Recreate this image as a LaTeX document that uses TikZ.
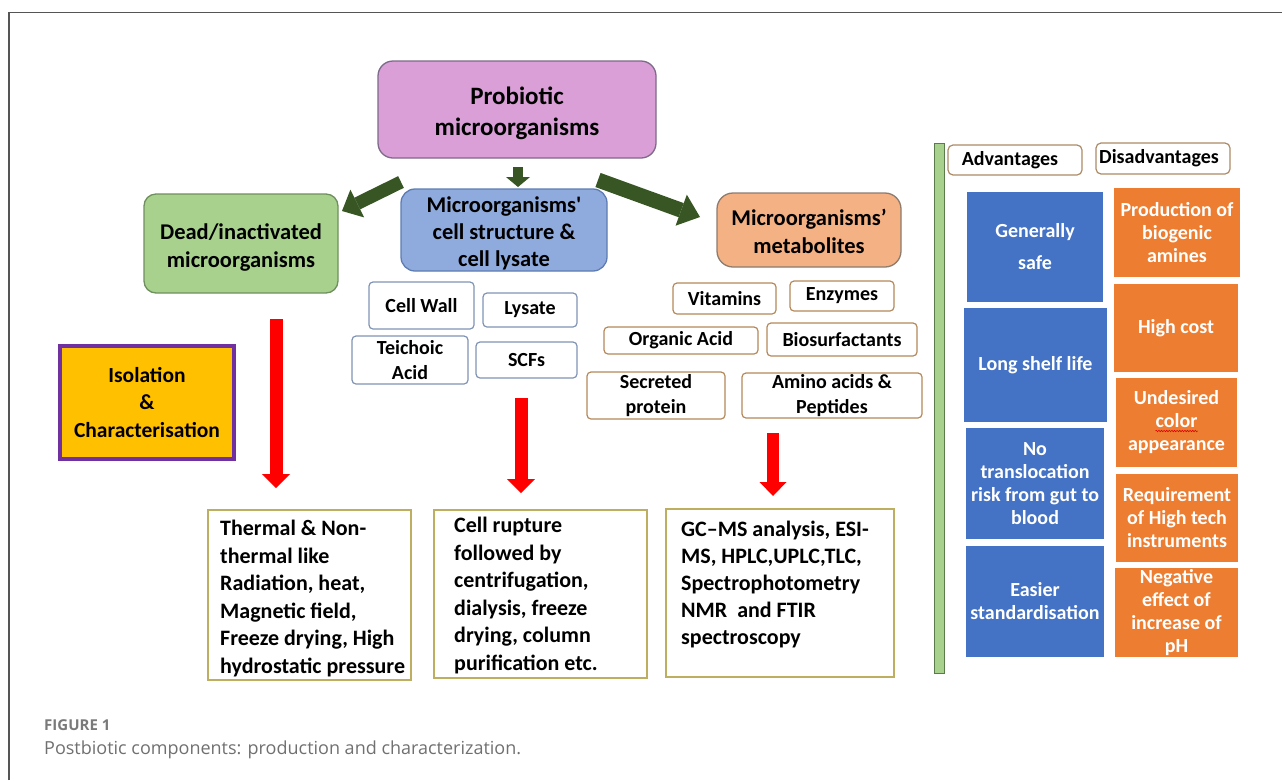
\documentclass[tikz,border=0pt]{standalone}
\usepackage{fontspec}
\setmainfont{Carlito}
\newfontfamily\capfont{Open Sans}
\usetikzlibrary{arrows.meta,decorations.pathmorphing}
\definecolor{pinkf}{HTML}{D99FD6}
\definecolor{pinkd}{HTML}{7E6A8A}
\definecolor{greenf}{HTML}{A9D18E}
\definecolor{greend}{HTML}{6F8F5E}
\definecolor{bluef}{HTML}{8FAADC}
\definecolor{blued}{HTML}{5E7CB4}
\definecolor{peachf}{HTML}{F4B183}
\definecolor{peachd}{HTML}{8D7B6E}
\definecolor{darkg}{HTML}{375623}
\definecolor{redc}{HTML}{FF0000}
\definecolor{isoy}{HTML}{FFC000}
\definecolor{isop}{HTML}{7030A0}
\definecolor{cellsd}{HTML}{7F93B5}
\definecolor{metsd}{HTML}{B5885A}
\definecolor{hdrd}{HTML}{AC8A65}
\definecolor{botd}{HTML}{BDAE60}
\definecolor{advblue}{HTML}{4472C4}
\definecolor{disor}{HTML}{ED7D31}
\definecolor{bard}{HTML}{5B7B4B}
\definecolor{framec}{HTML}{555555}
\definecolor{capg1}{HTML}{7A7A7A}
\definecolor{capg2}{HTML}{707070}
\tikzset{
  mainbox/.style={align=center, inner sep=0pt, line width=1.3pt, rounded corners=14pt,
    font=\bfseries\fontsize{22.5}{27.5}\selectfont},
  smallbox/.style={align=center, inner sep=0pt, line width=1.2pt, rounded corners=4pt, fill=white,
    font=\bfseries\fontsize{20}{25.5}\selectfont},
  cellsmall/.style={smallbox, draw=cellsd},
  metsmall/.style={smallbox, draw=metsd},
  hdrbox/.style={smallbox, draw=hdrd, rounded corners=5pt, minimum width=134pt},
  advbox/.style={align=center, inner sep=0pt, fill=advblue, text=white,
    font=\bfseries\fontsize{20}{23}\selectfont},
  disbox/.style={align=center, inner sep=0pt, fill=disor, text=white,
    font=\bfseries\fontsize{20}{23}\selectfont},
  botbox/.style={draw=botd, line width=1.3pt, inner sep=0pt},
  bottext/.style={align=left, inner sep=0pt, anchor=north west,
    font=\bfseries\fontsize{22}{27.5}\selectfont},
  garrow/.style={draw=darkg, line width=13pt, -{Triangle[length=17pt,width=31pt,line width=0pt]}},
  redarrow/.style={draw=redc, line width=13pt, -{Triangle[length=14pt,width=28pt,line width=0pt]}},
}
\begin{document}
\begin{tikzpicture}[x=1pt,y=-1pt]
\useasboundingbox (0,0) rectangle (1282,780);
% frame
\draw[framec, line width=1.4pt] (9,780) -- (9,12.5) -- (1282,12.5);

% main boxes
\node[mainbox, fill=pinkf, draw=pinkd, minimum width=278pt, minimum height=97pt,
  rounded corners=15pt, font=\bfseries\fontsize{25}{31}\selectfont] (prob) at (517,109.5) {\rule{0pt}{26pt}Probiotic\\microorganisms};
\node[mainbox, fill=greenf, draw=greend, minimum width=194pt, minimum height=99pt,
  rounded corners=12pt, font=\bfseries\fontsize{22.5}{28}\selectfont] (dead) at (241,243.5) {\rule{0pt}{24pt}Dead/inactivated\\microorganisms};
\node[mainbox, fill=bluef, draw=blued, minimum width=206pt, minimum height=82pt,
  font=\bfseries\fontsize{22.5}{27}\selectfont] (cell) at (504,230) {\rule{0pt}{22pt}Microorganisms\textquotesingle\\cell structure \&\\cell lysate};
\node[mainbox, fill=peachf, draw=peachd, minimum width=184pt, minimum height=74pt,
  rounded corners=16pt, font=\bfseries\fontsize{22.5}{28}\selectfont] (meta) at (809,230) {\rule{0pt}{19.5pt}Microorganisms’\\metabolites};

% green arrows
\coordinate (gA1) at (401,182); \coordinate (gA2) at (342,211);
\coordinate (gB1) at (518,167); \coordinate (gB2) at (518,187);
\coordinate (gC1) at (598,180); \coordinate (gC2) at (700,217);
\draw[garrow] (gA1) -- (gA2);
\draw[garrow, line width=10pt, -{Triangle[length=10pt,width=24pt,line width=0pt]}] (gB1) -- (gB2);
\draw[garrow, line width=15pt, -{Triangle[length=20pt,width=33pt,line width=0pt]}] (gC1) -- (gC2);

% cell small boxes
\node[cellsmall, minimum width=105pt, minimum height=47pt] (cwall) at (421.5,305.5) {Cell Wall};
\node[cellsmall, minimum width=94pt, minimum height=34pt] (lysate) at (530,310) {Lysate};
\node[cellsmall, minimum width=116pt, minimum height=48pt] (teich) at (410,360) {Teichoic\\Acid};
\node[cellsmall, minimum width=101pt, minimum height=36pt] (scfs) at (526.5,360) {SCFs};

% metabolite small boxes
\node[metsmall, minimum width=103pt, minimum height=31pt] (vit) at (724.5,298.5) {Vitamins};
\node[metsmall, minimum width=104pt, minimum height=30pt] (enz) at (842,296) {Enzymes};
\node[metsmall, minimum width=154pt, minimum height=27pt] (orgacid) at (681,340.5) {Organic Acid};
\node[metsmall, minimum width=150pt, minimum height=33pt] (biosurf) at (842,339.5) {Biosurfactants};
\node[metsmall, minimum width=138pt, minimum height=47pt] (secprot) at (656,395.5) {Secreted\\protein};
\node[metsmall, minimum width=180pt, minimum height=45pt] (amino) at (832,395.5) {Amino acids \&\\Peptides};

% isolation box
\node[fill=isoy, draw=isop, line width=4pt, minimum width=174pt, minimum height=113pt,
  inner sep=0pt, align=center, font=\bfseries\fontsize{21.5}{27.5}\selectfont] (iso) at (147,402.5) {Isolation\\\&\\Characterisation};

% red arrows
\coordinate (rA1) at (276,319); \coordinate (rA2) at (276,488);
\coordinate (rB1) at (521,398); \coordinate (rB2) at (521,493);
\coordinate (rC1) at (773,433); \coordinate (rC2) at (773,496);
\draw[redarrow] (rA1) -- (rA2);
\draw[redarrow] (rB1) -- (rB2);
\draw[redarrow, line width=12pt, -{Triangle[length=14pt,width=27pt,line width=0pt]}] (rC1) -- (rC2);

% bottom boxes
\node[botbox, minimum width=203pt, minimum height=170pt] (thermal) at (309.5,595) {};
\node[botbox, minimum width=213pt, minimum height=168pt] (rupture) at (540.5,594) {};
\node[botbox, minimum width=228pt, minimum height=168pt] (gcms) at (780,593) {};
\node[bottext] (thermaltxt) at (220,520) {Thermal \& Non-\\thermal like\\Radiation, heat,\\Magnetic field,\\Freeze drying, High\\hydrostatic pressure};
\node[bottext] (rupturetxt) at (454,517) {Cell rupture\\followed by\\centrifugation,\\dialysis, freeze\\drying, column\\purification etc.};
\node[bottext, font=\bfseries\fontsize{22}{27}\selectfont] (gcmstxt) at (681,521) {GC–MS analysis, ESI-\\MS, HPLC,UPLC,TLC,\\Spectrophotometry\\NMR\ \ and FTIR\\spectroscopy};

% right panel
\node[draw=bard, fill=greenf, line width=1pt, minimum width=10pt, minimum height=530pt, inner sep=0pt] (bar) at (939,408) {};
\node[hdrbox, minimum height=30pt] (advh) at (1015,160) {\raisebox{-1.5pt}{Advantages}\hspace{10pt}};
\node[hdrbox, minimum height=31pt] (dish) at (1163,158.5) {Disadvantages\hspace{8pt}};

\node[advbox, minimum width=136pt, minimum height=110pt] (adv1) at (1035,247) {Generally\\[9pt]safe};
\node[advbox, minimum width=143pt, minimum height=114pt] (adv2) at (1035.5,365) {Long shelf life};
\node[advbox, minimum width=138pt, minimum height=111pt] (adv3) at (1035,483.5) {No\\translocation\\risk from gut to\\blood};
\node[advbox, minimum width=138pt, minimum height=111pt] (adv4) at (1035,601.5) {Easier\\standardisation};

\node[disbox, minimum width=126.5pt, minimum height=89pt] (dis1) at (1177,232.5) {Production of\\biogenic\\amines};
\node[disbox, minimum width=124pt, minimum height=88pt] (dis2) at (1176,328) {High cost};
\node[disbox, minimum width=121pt, minimum height=89pt] (dis3) at (1176.5,422.5) {Undesired\\color\\appearance};
\node[disbox, minimum width=122pt, minimum height=88pt] (dis4) at (1177,518) {Requirement\\of High tech\\instruments};
\node[disbox, minimum width=123pt, minimum height=89pt] (dis5) at (1176.5,612.5) {Negative\\effect of\\increase of\\pH};
\draw[red!85!black, line width=0.6pt, decorate, decoration={snake, amplitude=0.7pt, segment length=2.6pt}]
  ([xshift=-21pt,yshift=-8.5pt]dis3.center) -- ([xshift=21pt,yshift=-8.5pt]dis3.center);

% caption
\node[anchor=base west, inner sep=0pt, text=capg1, font=\capfont\bfseries\fontsize{15}{18}\selectfont] (figlabel) at (44,730) {FIGURE 1};
\node[anchor=base west, inner sep=0pt, text=capg2, font=\capfont\fontsize{18}{22}\selectfont] (caption) at (44,754) {Postbiotic components: production and characterization.};
\end{tikzpicture}
\end{document}
